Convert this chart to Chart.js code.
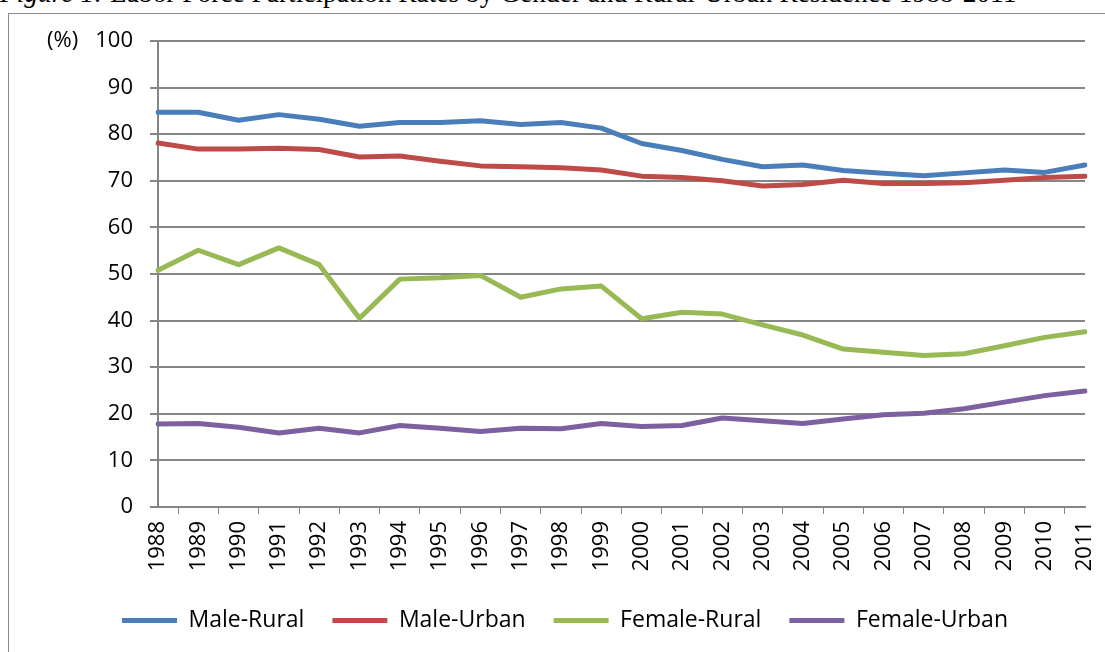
<!DOCTYPE html>
<html>
<head>
<meta charset="utf-8">
<script src="https://cdn.jsdelivr.net/npm/chart.js@4/dist/chart.umd.min.js"></script>
<style>
  html, body { margin: 0; padding: 0; background: #fff; }
  body { width: 1105px; height: 652px; overflow: hidden; position: relative; }
  .caption { position: absolute; left: 0px; top: -22px; font-family: "Liberation Serif", serif; font-size: 27.4px; white-space: nowrap; color: #000; }
  .frame { position: absolute; left: 8px; top: 13px; width: 1200px; height: 700px; border-left: 1px solid #8c8c8c; border-top: 1px solid #8c8c8c; }
  .unit { position: absolute; left: 47px; top: 23px; font: 22px "Open Sans"; color: #000; }
  #wrap { position: absolute; left: 0; top: 0; width: 1105px; height: 652px; }
</style>
</head>
<body>
<div class="caption"><i>Figure 1:</i> Labor Force Participation Rates by Gender and Rural-Urban Residence 1988-2011</div>
<div class="frame"></div>
<div id="wrap"><canvas id="chart"></canvas></div>
<div class="unit">(%)</div>
<script>
    // Data
    const years = ['1988', '1989', '1990', '1991', '1992', '1993', '1994', '1995', '1996', '1997', '1998', '1999',
                   '2000', '2001', '2002', '2003', '2004', '2005', '2006', '2007', '2008', '2009', '2010', '2011'];
    const maleRural   = [84.7, 84.7, 83.0, 84.2, 83.2, 81.7, 82.5, 82.5, 82.9, 82.1, 82.5, 81.3,
                         78.0, 76.5, 74.6, 73.0, 73.4, 72.2, 71.6, 71.1, 71.7, 72.3, 71.8, 73.4];
    const maleUrban   = [78.1, 76.8, 76.8, 77.0, 76.7, 75.1, 75.3, 74.2, 73.2, 73.0, 72.8, 72.3,
                         71.0, 70.7, 70.0, 68.9, 69.2, 70.1, 69.4, 69.4, 69.6, 70.1, 70.7, 71.0];
    const femaleRural = [50.8, 55.1, 52.0, 55.6, 52.0, 40.5, 48.9, 49.2, 49.7, 45.0, 46.8, 47.4,
                         40.4, 41.8, 41.4, 39.1, 36.9, 33.9, 33.2, 32.5, 32.9, 34.6, 36.4, 37.6];
    const femaleUrban = [17.8, 17.9, 17.1, 15.9, 16.9, 15.9, 17.5, 16.9, 16.2, 16.9, 16.8, 17.9,
                         17.3, 17.5, 19.1, 18.5, 17.9, 18.9, 19.8, 20.1, 21.1, 22.5, 23.9, 24.9];
    const yTicks = [0, 10, 20, 30, 40, 50, 60, 70, 80, 90, 100];

    const tickFont = { family: '"Open Sans", sans-serif', size: 22 };
    const legendFont = { family: '"Open Sans", sans-serif', size: 23 };
    const gridColor = '#868686';

    function series(label, data, color) {
        return {
            label: label,
            data: data,
            borderColor: color,
            backgroundColor: color,
            borderWidth: 5,
            pointRadius: 0,
            tension: 0,
            borderJoinStyle: 'round',
            borderCapStyle: 'round'
        };
    }

    new Chart(document.getElementById('chart'), {
        type: 'line',
        data: {
            labels: years,
            datasets: [
                series('Male-Rural', maleRural, '#4A7EBB'),
                series('Male-Urban', maleUrban, '#BE4B48'),
                series('Female-Rural', femaleRural, '#98B954'),
                series('Female-Urban', femaleUrban, '#7D60A0')
            ]
        },
        options: {
            responsive: true,
            maintainAspectRatio: false,
            animation: false,
            layout: { padding: { left: 45, right: 20, top: 41, bottom: 10 } },
            plugins: {
                tooltip: { enabled: false },
                legend: {
                    position: 'bottom',
                    labels: {
                        color: '#000',
                        font: legendFont,
                        boxWidth: 55,
                        boxHeight: 5,
                        padding: 28,
                        generateLabels: function (chart) {
                            const items = Chart.defaults.plugins.legend.labels.generateLabels(chart);
                            items.forEach(function (item) {
                                item.lineWidth = 0;
                                item.strokeStyle = 'rgba(0,0,0,0)';
                            });
                            return items;
                        }
                    }
                }
            },
            scales: {
                x: {
                    grid: { offset: true, drawOnChartArea: false, drawTicks: true, tickLength: 7, color: gridColor, lineWidth: 1 },
                    border: { color: gridColor, width: 2 },
                    ticks: { color: '#000', font: tickFont, minRotation: 90, maxRotation: 90, autoSkip: false, padding: 7 },
                    afterFit: function (scale) {
                        scale.height = 74;
                        scale.paddingLeft = 0;
                        scale.paddingRight = 0;
                    }
                },
                y: {
                    min: 0,
                    max: 100,
                    afterBuildTicks: function (scale) {
                        scale.ticks = yTicks.map(function (v) { return { value: v }; });
                    },
                    grid: { color: gridColor, lineWidth: 2, tickLength: 8 },
                    border: { color: gridColor, width: 2 },
                    ticks: { color: '#000', font: tickFont, padding: 17 },
                    afterFit: function (scale) { scale.width = 113; }
                }
            }
        }
    });
</script>
</body>
</html>
